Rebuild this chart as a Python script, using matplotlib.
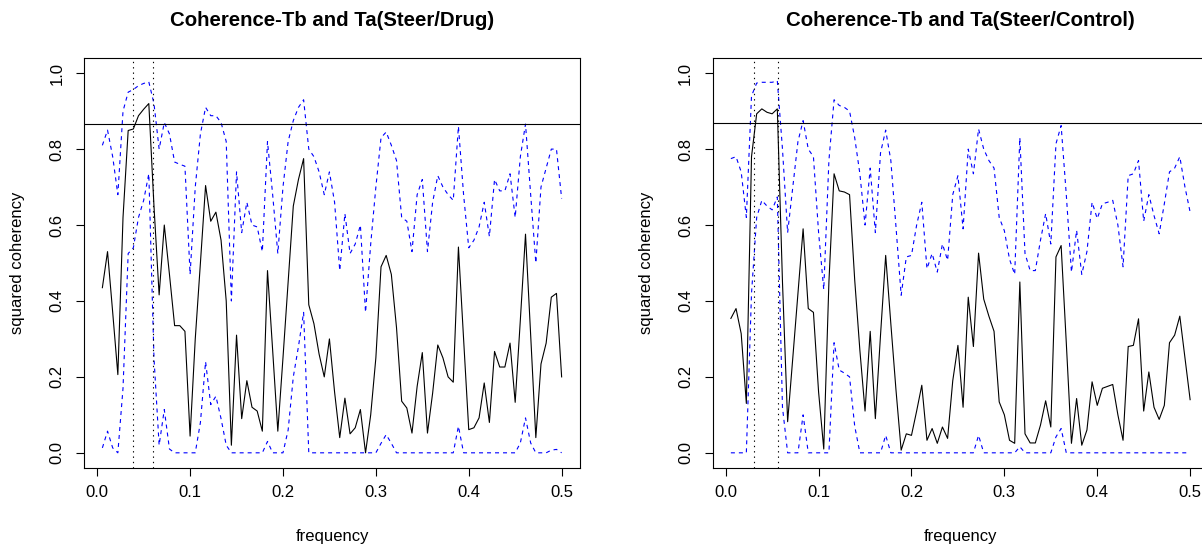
import numpy as np
import matplotlib
matplotlib.use("Agg")
import matplotlib.pyplot as plt

plt.rcParams['font.family'] = ['Liberation Sans', 'DejaVu Sans']

# ---- data -----------------------------------------------------------------
freq = np.arange(1, 91) / 180.0

titles = ["Coherence-Tb and Ta(Steer/Drug)", "Coherence-Tb and Ta(Steer/Control)"]

coh_drug = [0.435, 0.53, 0.37, 0.206, 0.62, 0.849, 0.853, 0.888, 0.905, 0.92,
            0.65, 0.416, 0.60, 0.47, 0.335, 0.335, 0.32, 0.044, 0.30, 0.50,
            0.704, 0.61, 0.634, 0.56, 0.40, 0.02, 0.31, 0.09, 0.19, 0.12,
            0.11, 0.057, 0.48, 0.27, 0.057, 0.25, 0.45, 0.65, 0.72, 0.775,
            0.39, 0.34, 0.26, 0.20, 0.30, 0.16, 0.04, 0.144, 0.05, 0.066,
            0.114, 0.0, 0.10, 0.25, 0.49, 0.52, 0.47, 0.33, 0.136, 0.118,
            0.052, 0.175, 0.264, 0.052, 0.157, 0.284, 0.25, 0.20, 0.186, 0.542,
            0.30, 0.061, 0.066, 0.092, 0.184, 0.08, 0.267, 0.226, 0.226, 0.289,
            0.133, 0.35, 0.576, 0.31, 0.04, 0.234, 0.289, 0.41, 0.42, 0.20]
upper_drug = [0.81, 0.85, 0.78, 0.68, 0.90, 0.95, 0.957, 0.967, 0.973, 0.977,
              0.92, 0.80, 0.87, 0.84, 0.766, 0.76, 0.755, 0.47, 0.70, 0.84,
              0.91, 0.888, 0.888, 0.87, 0.82, 0.40, 0.74, 0.58, 0.66, 0.60,
              0.595, 0.53, 0.82, 0.68, 0.525, 0.70, 0.82, 0.875, 0.91, 0.93,
              0.80, 0.78, 0.74, 0.68, 0.74, 0.66, 0.48, 0.63, 0.525, 0.55,
              0.60, 0.37, 0.55, 0.70, 0.83, 0.845, 0.81, 0.77, 0.62, 0.61,
              0.53, 0.68, 0.72, 0.53, 0.66, 0.73, 0.70, 0.68, 0.665, 0.86,
              0.68, 0.54, 0.56, 0.595, 0.66, 0.57, 0.72, 0.69, 0.69, 0.735,
              0.62, 0.78, 0.866, 0.68, 0.50, 0.70, 0.75, 0.80, 0.80, 0.67]
lower_drug = [0.013, 0.057, 0.013, 0.0, 0.17, 0.525, 0.54, 0.62, 0.665, 0.735,
              0.25, 0.02, 0.114, 0.01, 0.0, 0.0, 0.0, 0.0, 0.0, 0.08,
              0.24, 0.127, 0.149, 0.09, 0.02, 0.0, 0.0, 0.0, 0.0, 0.0,
              0.0, 0.0, 0.03, 0.0, 0.0, 0.0, 0.06, 0.20, 0.28, 0.37,
              0.0, 0.0, 0.0, 0.0, 0.0, 0.0, 0.0, 0.0, 0.0, 0.0,
              0.0, 0.0, 0.0, 0.0, 0.025, 0.048, 0.025, 0.0, 0.0, 0.0,
              0.0, 0.0, 0.0, 0.0, 0.0, 0.0, 0.0, 0.0, 0.0, 0.07,
              0.0, 0.0, 0.0, 0.0, 0.0, 0.0, 0.0, 0.0, 0.0, 0.0,
              0.0, 0.026, 0.092, 0.026, 0.0, 0.0, 0.0, 0.007, 0.009, 0.0]

coh_ctrl = [0.354, 0.38, 0.314, 0.13, 0.78, 0.893, 0.906, 0.897, 0.893, 0.906,
            0.45, 0.082, 0.25, 0.42, 0.59, 0.38, 0.37, 0.16, 0.01, 0.45,
            0.735, 0.69, 0.687, 0.68, 0.455, 0.27, 0.11, 0.32, 0.09, 0.31,
            0.52, 0.34, 0.165, 0.007, 0.05, 0.046, 0.11, 0.178, 0.033, 0.064,
            0.025, 0.068, 0.038, 0.19, 0.283, 0.12, 0.41, 0.28, 0.526, 0.405,
            0.36, 0.32, 0.134, 0.10, 0.033, 0.025, 0.45, 0.05, 0.026, 0.026,
            0.073, 0.137, 0.068, 0.516, 0.546, 0.29, 0.025, 0.143, 0.02, 0.06,
            0.187, 0.125, 0.17, 0.175, 0.18, 0.10, 0.033, 0.28, 0.283, 0.353,
            0.11, 0.213, 0.12, 0.088, 0.125, 0.29, 0.31, 0.36, 0.25, 0.14]
upper_ctrl = [0.775, 0.78, 0.74, 0.62, 0.94, 0.974, 0.976, 0.976, 0.976, 0.98,
              0.80, 0.58, 0.70, 0.82, 0.875, 0.80, 0.78, 0.58, 0.43, 0.77,
              0.93, 0.915, 0.91, 0.90, 0.83, 0.735, 0.60, 0.75, 0.58, 0.79,
              0.85, 0.77, 0.595, 0.415, 0.516, 0.52, 0.60, 0.66, 0.485, 0.525,
              0.476, 0.55, 0.507, 0.68, 0.73, 0.59, 0.80, 0.735, 0.853, 0.80,
              0.77, 0.75, 0.62, 0.585, 0.51, 0.47, 0.83, 0.525, 0.48, 0.48,
              0.56, 0.63, 0.55, 0.814, 0.862, 0.68, 0.476, 0.586, 0.47, 0.53,
              0.66, 0.617, 0.656, 0.66, 0.665, 0.60, 0.49, 0.73, 0.735, 0.77,
              0.61, 0.68, 0.625, 0.577, 0.656, 0.74, 0.75, 0.78, 0.70, 0.634]
lower_ctrl = [0.0, 0.0, 0.0, 0.0, 0.42, 0.62, 0.665, 0.65, 0.64, 0.674,
              0.12, 0.0, 0.0, 0.0, 0.10, 0.0, 0.0, 0.0, 0.0, 0.0,
              0.29, 0.218, 0.21, 0.20, 0.07, 0.0, 0.0, 0.0, 0.0, 0.0,
              0.046, 0.0, 0.0, 0.0, 0.0, 0.0, 0.0, 0.0, 0.0, 0.0,
              0.0, 0.0, 0.0, 0.0, 0.0, 0.0, 0.0, 0.0, 0.046, 0.0,
              0.0, 0.0, 0.0, 0.0, 0.0, 0.0, 0.016, 0.0, 0.0, 0.0,
              0.0, 0.0, 0.0, 0.042, 0.064, 0.0, 0.0, 0.0, 0.0, 0.0,
              0.0, 0.0, 0.0, 0.0, 0.0, 0.0, 0.0, 0.0, 0.0, 0.0,
              0.0, 0.0, 0.0, 0.0, 0.0, 0.0, 0.0, 0.0, 0.0, 0.0]

hline_level = [0.865, 0.868]
vlines = [[0.0382, 0.0604], [0.0308, 0.0567]]

xticks = [0.0, 0.1, 0.2, 0.3, 0.4, 0.5]
yticks = [0.0, 0.2, 0.4, 0.6, 0.8, 1.0]

# ---- figure ---------------------------------------------------------------
W, H = 1202, 548
fig = plt.figure(figsize=(W / 100, H / 100), dpi=100)

boxes = [(84, 58, 496, 410), (712.5, 58, 496, 410)]  # left, top, width, height in px
series = [(coh_drug, upper_drug, lower_drug), (coh_ctrl, upper_ctrl, lower_ctrl)]

fmin, fmax = freq[0], freq[-1]
pad = 0.04 * (fmax - fmin)

for i, (bx, by, bw, bh) in enumerate(boxes):
    ax = fig.add_axes([bx / W, 1 - (by + bh) / H, bw / W, bh / H])
    coh, up, lo = series[i]
    ax.plot(freq, coh, color='black', lw=0.8)
    ax.plot(freq, up, color='#0000FF', lw=0.8, dashes=(3.6, 3.6))
    ax.plot(freq, lo, color='#0000FF', lw=0.8, dashes=(3.6, 3.6))
    ax.axhline(hline_level[i], color='black', lw=0.8)
    for v in vlines[i]:
        ax.axvline(v, color='black', lw=0.8, dashes=(1.2, 3.6))
    ax.set_xlim(fmin - pad, fmax + pad)
    ax.set_ylim(-0.04, 1.04)
    ax.set_xticks(xticks)
    ax.set_xticklabels([f"{t:.1f}" for t in xticks])
    ax.set_yticks(yticks)
    ax.set_yticklabels([f"{t:.1f}" for t in yticks], rotation=90, va='center')
    ax.tick_params(direction='out', length=6, width=0.8, labelsize=12,
                   colors='black')
    ax.tick_params(axis='x', pad=6)
    ax.tick_params(axis='y', pad=8)
    for sp in ax.spines.values():
        sp.set_linewidth(0.8)
    cx = bx + bw / 2
    fig.text(cx / W, 1 - 20 / H, titles[i], ha='center', va='center',
             fontsize=14.7, fontweight='bold')
    fig.text(cx / W, 1 - 537 / H, 'frequency', ha='center', va='center',
             fontsize=12)
    fig.text((bx - 66) / W, 1 - (by + bh / 2) / H, 'squared coherency',
             ha='center', va='center', rotation=90, fontsize=12)

fig.savefig('out.png', dpi=100)
